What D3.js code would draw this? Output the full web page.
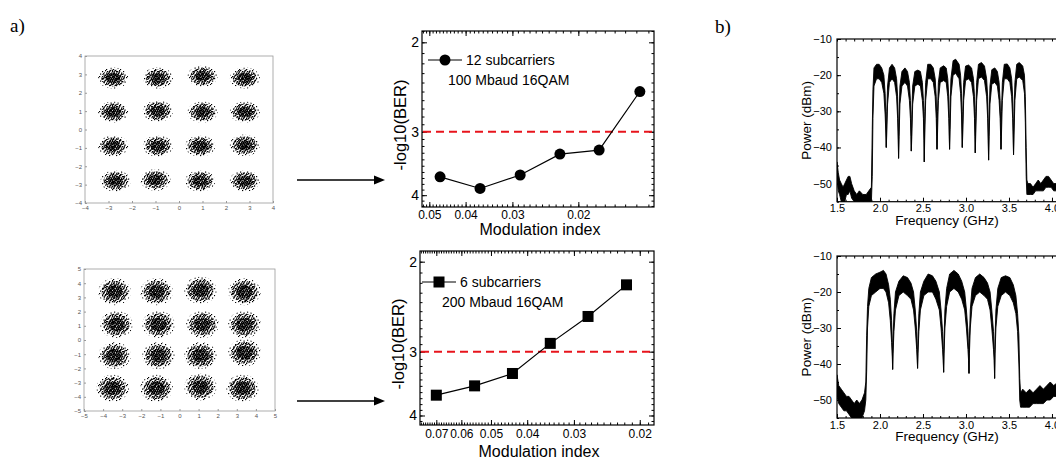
<!DOCTYPE html>
<html>
<head>
<meta charset="utf-8">
<script src="https://cdn.jsdelivr.net/npm/d3@7"></script>
<style>
  body { margin: 0; background: #fff; }
  svg { display: block; }
  text { font-family: Arial, "Liberation Sans", sans-serif; }
</style>
</head>
<body>
<div id="fig"></div>
<script>
// ---- données ----

// BER, 12 sous-porteuses 100 Mbaud
const modIndex12 = [0.0468, 0.0366, 0.0286, 0.0224, 0.0176, 0.0137];
const logBer12 = [3.68, 3.88, 3.65, 3.32, 3.26, 2.50];
// BER, 6 sous-porteuses 200 Mbaud
const modIndex6 = [0.0700, 0.0553, 0.0438, 0.0347, 0.0275, 0.0217];
const logBer6 = [3.65, 3.50, 3.31, 2.89, 2.56, 2.22];
const berLimit = 3;

const berXTicksTop = [0.05, 0.04, 0.03, 0.02];
const berXTicksBottom = [0.07, 0.06, 0.05, 0.04, 0.03, 0.02];
const berYTicks = [2, 3, 4];

// constellations : centres des nuages (I, Q)
const constTopCenters = [
  [-2.8, 2.8], [-0.9, 2.8], [1.0, 2.9], [2.8, 2.8],
  [-2.8, 0.95], [-0.9, 1.0], [1.0, 0.95], [2.8, 0.95],
  [-2.8, -0.9], [-0.9, -0.9], [0.9, -0.9], [2.8, -0.85],
  [-2.7, -2.8], [-1.0, -2.75], [0.9, -2.8], [2.8, -2.8]
];
const constBottomCenters = [
  [-3.4, 3.4], [-1.2, 3.4], [1.1, 3.5], [3.4, 3.4],
  [-3.3, 1.1], [-1.1, 1.1], [1.2, 1.1], [3.4, 1.1],
  [-3.4, -1.1], [-1.1, -1.1], [1.1, -1.1], [3.4, -0.9],
  [-3.5, -3.4], [-1.2, -3.4], [1.1, -3.3], [3.3, -3.4]
];
const constTopTicks = [-4, -3, -2, -1, 0, 1, 2, 3, 4];
const constBottomTicks = [-5, -4, -3, -2, -1, 0, 1, 2, 3, 4, 5];

// spectres : [fréquence GHz, enveloppe haute dBm, enveloppe basse dBm]
const spectrum12 = [
  [1.50,-44,-49],[1.515,-47,-52],[1.53,-49,-53],[1.55,-50,-55],[1.57,-51,-55],[1.59,-50,-55],
  [1.61,-49,-53],[1.63,-48,-53],[1.65,-48,-52],[1.67,-50,-54],[1.70,-52,-55],[1.73,-53,-55],
  [1.76,-52,-55],[1.80,-53,-55],[1.84,-53,-55],[1.87,-52,-55],[1.90,-51,-55],
  [1.910,-35,-48],[1.918,-24,-32],[1.93,-18,-23],
  [1.96,-17,-21],[1.99,-17,-21],[2.02,-18,-22],[2.045,-20,-25],[2.06,-25,-31],[2.068,-31,-36],[2.073,-40,-40],
  [2.079,-30,-36],[2.088,-23,-28],[2.11,-18,-22],[2.14,-17,-21],[2.17,-18,-22],[2.193,-21,-26],[2.205,-26,-32],[2.212,-33,-38],[2.216,-43,-43],
  [2.222,-31,-37],[2.232,-23,-28],[2.255,-19,-23],[2.29,-18,-22],[2.32,-19,-23],[2.342,-22,-27],[2.354,-27,-32],[2.360,-33,-37],[2.364,-41,-41],
  [2.370,-31,-37],[2.380,-23,-28],[2.405,-19,-23],[2.44,-18.6,-22.5],[2.47,-19,-23],[2.493,-22,-27],[2.505,-27,-32],[2.511,-33,-38],[2.515,-44,-44],
  [2.521,-30,-36],[2.531,-22,-27],[2.555,-17,-21],[2.59,-17,-21],[2.62,-18,-22],[2.642,-21,-26],[2.654,-26,-32],[2.659,-32,-37],[2.663,-40.5,-40.5],
  [2.669,-30,-36],[2.679,-22,-27],[2.70,-18,-22],[2.74,-17.4,-21.5],[2.77,-18,-22],[2.788,-21,-26],[2.800,-26,-32],[2.805,-32,-37],[2.809,-40.5,-40.5],
  [2.815,-29,-35],[2.825,-21,-26],[2.85,-16,-20],[2.88,-15.6,-19.5],[2.92,-17,-21],[2.937,-20,-25],[2.948,-25,-31],[2.953,-31,-36],[2.957,-40,-40],
  [2.963,-30,-36],[2.973,-22,-27],[2.995,-17.5,-21.5],[3.03,-17.2,-21],[3.065,-18,-22],[3.087,-21,-26],[3.099,-26,-32],[3.104,-32,-37],[3.108,-41.5,-41.5],
  [3.114,-30,-36],[3.124,-22,-27],[3.145,-17,-21],[3.18,-16.5,-20.5],[3.215,-17.5,-21.5],[3.240,-21,-26],[3.252,-26,-32],[3.258,-33,-38],[3.263,-43.5,-43.5],
  [3.269,-31,-37],[3.279,-23,-28],[3.30,-18.5,-22.5],[3.335,-18,-22],[3.365,-19,-23],[3.385,-22,-27],[3.397,-27,-32],[3.403,-33,-37],[3.407,-40.5,-40.5],
  [3.413,-30,-36],[3.423,-22,-27],[3.445,-17,-21],[3.48,-16.9,-21],[3.51,-18,-22],[3.531,-21,-26],[3.543,-26,-32],[3.549,-33,-38],[3.553,-42,-42],
  [3.559,-30,-36],[3.569,-22,-27],[3.59,-17,-21],[3.62,-16.5,-20.5],[3.66,-17.5,-21.5],[3.68,-20,-25],[3.69,-26,-33],
  [3.70,-40,-48],[3.708,-49,-53],
  [3.72,-50,-53],[3.75,-50,-53],[3.78,-51,-53],[3.81,-50,-52],[3.84,-49,-52],[3.87,-50,-52],
  [3.90,-49,-52],[3.93,-48,-51],[3.96,-48,-51],[3.99,-49,-51],[4.02,-50,-52],[4.07,-50,-52]
];
const spectrum6 = [
  [1.50,-43,-49],[1.52,-46,-51],[1.55,-47,-52],[1.58,-48,-53],[1.61,-49,-53],[1.64,-49,-54],
  [1.67,-50,-55],[1.70,-51,-55],[1.73,-50,-55],[1.76,-51,-55],[1.79,-50,-55],[1.82,-48,-53],[1.835,-45,-50],
  [1.845,-32,-42],[1.855,-24,-30],[1.87,-19,-24],
  [1.90,-16,-21],[1.95,-15,-20],[2.00,-14.5,-19],[2.04,-14,-19],[2.07,-15,-20],[2.10,-18,-23],[2.12,-22,-28],[2.135,-28,-34],[2.143,-34,-38],[2.147,-41.5,-41.5],
  [2.152,-33,-37],[2.162,-26,-31],[2.18,-20,-25],[2.22,-17,-21],[2.27,-15.5,-20],[2.32,-16,-21],[2.36,-17.5,-22],[2.39,-20,-25],[2.41,-25,-30],[2.427,-31,-36],[2.433,-36,-39],[2.437,-41.2,-41.2],
  [2.442,-33,-37],[2.452,-26,-31],[2.47,-20,-25],[2.51,-17,-21],[2.56,-15,-20],[2.61,-15.5,-20],[2.65,-17,-22],[2.69,-20,-25],[2.71,-25,-30],[2.728,-31,-36],[2.735,-36,-39],[2.740,-42.3,-42.3],
  [2.745,-33,-37],[2.755,-25,-30],[2.775,-19,-24],[2.81,-15,-20],[2.86,-14,-19],[2.91,-15,-20],[2.95,-17,-22],[2.985,-20,-25],[3.005,-25,-30],[3.023,-31,-36],[3.030,-36,-39],[3.035,-42.6,-42.6],
  [3.040,-33,-37],[3.050,-25,-30],[3.07,-19,-24],[3.11,-16,-21],[3.16,-15,-20],[3.21,-16,-21],[3.25,-17.5,-22],[3.28,-20,-25],[3.30,-25,-30],[3.320,-31,-36],[3.328,-36,-39],[3.333,-44,-44],
  [3.338,-33,-37],[3.348,-25,-30],[3.37,-19,-24],[3.41,-16,-21],[3.46,-15.5,-20],[3.51,-16,-21],[3.55,-18,-23],[3.58,-21,-26],[3.60,-26,-31],[3.615,-32,-40],
  [3.625,-44,-50],[3.635,-48,-52],
  [3.66,-47,-52],[3.70,-48,-52],[3.74,-47,-52],[3.78,-48,-51],[3.82,-47,-51],[3.86,-46,-51],
  [3.90,-47,-51],[3.94,-46,-50],[3.98,-45,-50],[4.02,-46,-49],[4.07,-45,-49]
];
const specXTicks = [1.5, 2.0, 2.5, 3.0, 3.5, 4.0];
const specYTicks = [-10, -20, -30, -40, -50];

// ---- svg ----
const svg = d3.select("#fig").append("svg")
    .attr("width", 1056)
    .attr("height", 459);
const defs = svg.append("defs");

// motifs pointillés pour les nuages de points
function speckle(id, size, pts, r) {
  const p = defs.append("pattern")
      .attr("id", id)
      .attr("width", size).attr("height", size)
      .attr("patternUnits", "userSpaceOnUse");
  p.selectAll("rect").data(pts).join("rect")
      .attr("x", d => d[0]).attr("y", d => d[1])
      .attr("width", r).attr("height", r)
      .attr("fill", "#000");
}
speckle("core", 4, [[0,0],[2,0.5],[1,1.6],[3,2],[0.2,2.8],[2.2,3]], 1.5);
speckle("dense", 5, [[0,0],[2,1],[4,0.5],[1,2.5],[3,3],[0.5,4],[3.5,1.8],[2,4.2]], 1.3);
speckle("sparse", 7, [[0,0],[4,1],[2,3.5],[5.5,4.5],[1,6]], 1.2);

// lettres a) b)
svg.append("text").attr("x", 10).attr("y", 32)
    .style("font-family", "'Liberation Serif', 'Times New Roman', serif")
    .attr("font-size", 19).text("a)");
svg.append("text").attr("x", 715).attr("y", 33)
    .style("font-family", "'Liberation Serif', 'Times New Roman', serif")
    .attr("font-size", 19).text("b)");

// ---- constellations ----
function constellation(o) {
  const x = d3.scaleLinear().domain(o.domain).range([o.left, o.right]);
  const y = d3.scaleLinear().domain(o.domain).range([o.bottom, o.top]);
  const g = svg.append("g");

  g.append("rect")
      .attr("x", o.left).attr("y", o.top)
      .attr("width", o.right - o.left).attr("height", o.bottom - o.top)
      .attr("fill", "none").attr("stroke", "#999").attr("stroke-width", 0.8);

  const styleAx = s => {
    s.select(".domain").remove();
    s.selectAll("line").attr("stroke", "#999");
    s.selectAll("text").attr("font-size", 6).attr("fill", "#555");
  };
  g.append("g").attr("transform", `translate(0,${o.bottom})`)
      .call(d3.axisBottom(x).tickValues(o.ticks).tickSize(-2).tickPadding(3))
      .call(styleAx);
  g.append("g").attr("transform", `translate(${o.left},0)`)
      .call(d3.axisLeft(y).tickValues(o.ticks).tickSize(-2).tickPadding(3))
      .call(styleAx);

  const sx = x(o.rx) - x(0), sy = y(0) - y(o.ry);
  const layers = [[1, "sparse"], [0.8, "dense"], [0.5, "core"]];
  layers.forEach(([k, pat]) => {
    g.append("g").selectAll("ellipse").data(o.centers).join("ellipse")
        .attr("cx", d => x(d[0])).attr("cy", d => y(d[1]))
        .attr("rx", sx * k).attr("ry", sy * k)
        .attr("fill", `url(#${pat})`);
  });
}

constellation({left: 85, right: 273, top: 56, bottom: 203, domain: [-4, 4],
  ticks: constTopTicks, centers: constTopCenters, rx: 0.64, ry: 0.58});
constellation({left: 84, right: 275, top: 269, bottom: 411, domain: [-5, 5],
  ticks: constBottomTicks, centers: constBottomCenters, rx: 0.85, ry: 0.95});

// flèches
function arrow(x1, x2, yy) {
  svg.append("line").attr("x1", x1).attr("x2", x2 - 8).attr("y1", yy).attr("y2", yy)
      .attr("stroke", "#000").attr("stroke-width", 1.5);
  svg.append("path").attr("d", `M${x2},${yy}L${x2 - 11},${yy - 4.5}L${x2 - 11},${yy + 4.5}Z`)
      .attr("fill", "#000");
}
arrow(297, 385, 180);
arrow(297, 385, 401);

// ---- courbes BER ----
function berPanel(o) {
  const x = d3.scaleLog().domain(o.xDomain).range([o.left, o.right]);
  const y = d3.scaleLog().domain(o.yDomain).range([o.top, o.bottom]);
  const g = svg.append("g");

  const xMinor = d3.range(10, 80).map(v => v / 1000)
      .filter(v => v <= o.xDomain[0] && v >= o.xDomain[1]);
  const yMinor = d3.range(19, 43).map(v => v / 10)
      .filter(v => v >= o.yDomain[0] && v <= o.yDomain[1]);

  const clean = s => { s.select(".domain").remove(); s.selectAll("line").attr("stroke", "#000"); };

  // axe bas + haut
  g.append("g").attr("transform", `translate(0,${o.bottom})`)
      .call(d3.axisBottom(x).tickValues(o.xTicks).tickFormat(d3.format(".2f"))
          .tickSize(-5).tickPadding(o.tickPad))
      .call(clean)
      .selectAll("text").attr("font-size", 12).attr("fill", "#000");
  g.append("g").attr("transform", `translate(0,${o.bottom})`)
      .call(d3.axisBottom(x).tickValues(xMinor).tickFormat("").tickSize(-2.5))
      .call(clean);
  g.append("g").attr("transform", `translate(0,${o.top})`)
      .call(d3.axisTop(x).tickValues(o.xTicks).tickFormat("").tickSize(-5))
      .call(clean);
  g.append("g").attr("transform", `translate(0,${o.top})`)
      .call(d3.axisTop(x).tickValues(xMinor).tickFormat("").tickSize(-2.5))
      .call(clean);

  // axe gauche + droite
  g.append("g").attr("transform", `translate(${o.left},0)`)
      .call(d3.axisLeft(y).tickValues(berYTicks).tickFormat(d3.format("d"))
          .tickSize(-5).tickPadding(3))
      .call(clean)
      .selectAll("text").attr("font-size", 14).attr("fill", "#000");
  g.append("g").attr("transform", `translate(${o.left},0)`)
      .call(d3.axisLeft(y).tickValues(yMinor).tickFormat("").tickSize(-2.5))
      .call(clean);
  g.append("g").attr("transform", `translate(${o.right},0)`)
      .call(d3.axisRight(y).tickValues(berYTicks).tickFormat("").tickSize(-5))
      .call(clean);
  g.append("g").attr("transform", `translate(${o.right},0)`)
      .call(d3.axisRight(y).tickValues(yMinor).tickFormat("").tickSize(-2.5))
      .call(clean);

  g.append("rect")
      .attr("x", o.left).attr("y", o.top)
      .attr("width", o.right - o.left).attr("height", o.bottom - o.top)
      .attr("fill", "none").attr("stroke", "#000").attr("stroke-width", 1.2);

  // seuil FEC
  g.append("line")
      .attr("x1", o.left + 1).attr("x2", o.right - 1)
      .attr("y1", y(berLimit)).attr("y2", y(berLimit))
      .attr("stroke", "#e8141c").attr("stroke-width", 2)
      .attr("stroke-dasharray", "8,5");

  const pts = o.xs.map((v, i) => [v, o.ys[i]]);
  g.append("path").datum(pts)
      .attr("fill", "none").attr("stroke", "#000").attr("stroke-width", 1.2)
      .attr("d", d3.line().x(d => x(d[0])).y(d => y(d[1])));

  const marker = (sel, cx, cy) => {
    if (o.shape === "circle") {
      sel.append("circle").attr("cx", cx).attr("cy", cy).attr("r", 5.5).attr("fill", "#000");
    } else {
      sel.append("rect").attr("x", cx - 5.5).attr("y", cy - 5.5)
          .attr("width", 11).attr("height", 11).attr("fill", "#000");
    }
  };
  pts.forEach(d => marker(g, x(d[0]), y(d[1])));

  // légende
  g.append("line").attr("x1", o.legX).attr("x2", o.legX + 34)
      .attr("y1", o.legY).attr("y2", o.legY)
      .attr("stroke", "#000").attr("stroke-width", 1.2);
  marker(g, o.legX + 17, o.legY);
  g.append("text").attr("x", o.legX + 38).attr("y", o.legY + 5)
      .attr("font-size", 14).text(o.leg1);
  g.append("text").attr("x", o.legX + 20).attr("y", o.legY + 25)
      .attr("font-size", 14).text(o.leg2);

  // titres d'axes
  g.append("text")
      .attr("transform", `translate(${o.left - 16},${(o.top + o.bottom) / 2 + 6}) rotate(-90)`)
      .attr("text-anchor", "middle").attr("font-size", 16.5).text("-log10(BER)");
  g.append("text")
      .attr("x", (o.left + o.right) / 2 + 2).attr("y", o.bottom + o.titleDy)
      .attr("text-anchor", "middle").attr("font-size", 16).text("Modulation index");
}

berPanel({left: 422, right: 654, top: 31, bottom: 207,
  xDomain: [0.0523, 0.01256], yDomain: [1.9, 4.22],
  xTicks: berXTicksTop, xs: modIndex12, ys: logBer12, shape: "circle",
  legX: 428, legY: 60, leg1: "12 subcarriers", leg2: "100 Mbaud 16QAM",
  tickPad: 3, titleDy: 28});
berPanel({left: 420, right: 654, top: 251, bottom: 425,
  xDomain: [0.0774, 0.01832], yDomain: [1.906, 4.175],
  xTicks: berXTicksBottom, xs: modIndex6, ys: logBer6, shape: "square",
  legX: 422, legY: 282, leg1: "6 subcarriers", leg2: "200 Mbaud 16QAM",
  tickPad: 4, titleDy: 32});

// ---- spectres ----
function spectrumPanel(o) {
  const x = d3.scaleLinear().domain([1.5, 4.07]).range([837, 1058]);
  const y = d3.scaleLinear().domain([-55, -10]).range([o.bottom, o.top]);
  const g = svg.append("g");

  const clipId = "clip" + o.top;
  defs.append("clipPath").attr("id", clipId)
    .append("rect").attr("x", 837).attr("y", o.top)
    .attr("width", 221).attr("height", o.bottom - o.top);

  g.append("path").datum(o.data)
      .attr("clip-path", `url(#${clipId})`)
      .attr("fill", "#000").attr("stroke", "#000").attr("stroke-width", 0.9)
      .attr("d", d3.area().x(d => x(d[0])).y0(d => y(d[2])).y1(d => y(d[1])));

  const clean = s => { s.select(".domain").remove(); s.selectAll("line").attr("stroke", "#000"); };
  const xMinor = d3.range(15, 41).map(v => v / 10);
  const yMinor = d3.range(-55, -9, 5);

  g.append("g").attr("transform", `translate(0,${o.bottom})`)
      .call(d3.axisBottom(x).tickValues(specXTicks).tickFormat(d3.format(".1f"))
          .tickSize(-4).tickPadding(3))
      .call(clean)
      .selectAll("text").attr("font-size", 11).attr("fill", "#000");
  g.append("g").attr("transform", `translate(0,${o.bottom})`)
      .call(d3.axisBottom(x).tickValues(xMinor).tickFormat("").tickSize(-2))
      .call(clean);
  g.append("g").attr("transform", `translate(0,${o.top})`)
      .call(d3.axisTop(x).tickValues(xMinor).tickFormat("").tickSize(-2.5))
      .call(clean);
  g.append("g").attr("transform", `translate(837,0)`)
      .call(d3.axisLeft(y).tickValues(specYTicks).tickFormat(d3.format("d"))
          .tickSize(-4).tickPadding(5))
      .call(clean)
      .selectAll("text").attr("font-size", 11).attr("fill", "#000");
  g.append("g").attr("transform", `translate(837,0)`)
      .call(d3.axisLeft(y).tickValues(yMinor).tickFormat("").tickSize(-2))
      .call(clean);

  g.append("rect")
      .attr("x", 837).attr("y", o.top)
      .attr("width", 240).attr("height", o.bottom - o.top)
      .attr("fill", "none").attr("stroke", "#000").attr("stroke-width", 1.2);

  g.append("text")
      .attr("transform", `translate(811,${(o.top + o.bottom) / 2}) rotate(-90)`)
      .attr("text-anchor", "middle").attr("font-size", 13.5).text("Power (dBm)");
  g.append("text")
      .attr("x", 947).attr("y", o.bottom + 23)
      .attr("text-anchor", "middle").attr("font-size", 13.5).text("Frequency (GHz)");
}

spectrumPanel({top: 39, bottom: 201.7, data: spectrum12});
spectrumPanel({top: 256, bottom: 418, data: spectrum6});
</script>
</body>
</html>
